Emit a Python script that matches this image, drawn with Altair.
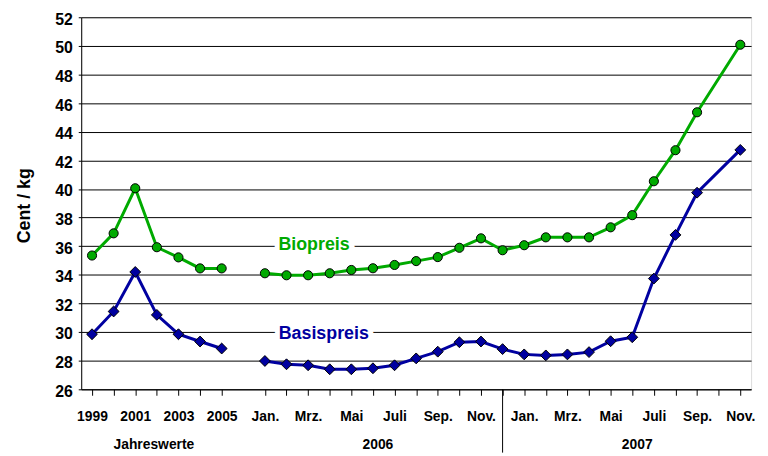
import json
import altair as alt
import pandas as pd

# ---------------- data ----------------
keys = ["1999", "2000", "2001", "2002", "2003", "2004", "2005", "gap",
        "2006-01", "2006-02", "2006-03", "2006-04", "2006-05", "2006-06",
        "2006-07", "2006-08", "2006-09", "2006-10", "2006-11", "2006-12",
        "2007-01", "2007-02", "2007-03", "2007-04", "2007-05", "2007-06",
        "2007-07", "2007-08", "2007-09", "2007-10", "2007-11"]
tick_labels = ["1999", "", "2001", "", "2003", "", "2005", "",
               "Jan.", "", "Mrz.", "", "Mai", "", "Juli", "", "Sep.", "", "Nov.", "",
               "Jan.", "", "Mrz.", "", "Mai", "", "Juli", "", "Sep.", "", "Nov."]
segments = ["annual"] * 8 + ["monthly"] * 23

bio = [35.35, 36.9, 40.05, 35.93, 35.22, 34.45, 34.45, None,
       34.11, 33.97, 33.97, 34.11, 34.34, 34.46, 34.69, 34.96, 35.24, 35.89, 36.55, 35.72,
       36.07, 36.62, 36.62, 36.62, 37.32, 38.17, 40.54, 42.71, 45.36, None, 50.08]
basis = [29.85, 31.44, 34.2, 31.2, 29.85, 29.34, 28.85, None,
         27.98, 27.75, 27.68, 27.4, 27.4, 27.47, 27.68, 28.16, 28.63, 29.29, 29.34, 28.81,
         28.44, 28.37, 28.44, 28.6, 29.36, 29.64, 33.74, 36.79, 39.74, None, 42.73]

series_names = ["Biopreis", "Basispreis"]
series_colors = ["#00AA00", "#0000A0"]
series_shapes = ["circle", "diamond"]
series_sizes = [85, 120]

# series labels on the chart
label_anchor = ["2006-03", "2006-04"]
label_level = [36, 30]
label_dx = [6, -6]
label_dy = [4, 7]

group_labels = ["Jahreswerte", "2006", "2007"]
group_anchor = ["2002", "2006-06", "2007-06"]
group_dx = [-3, 5, 5]

y_ticks = list(range(26, 53, 2))

FONT = "Liberation Sans"
W, H = 677, 376

rows = []
for name, vals in zip(series_names, [bio, basis]):
    for k, s, v in zip(keys, segments, vals):
        if v is not None:
            rows.append({"key": k, "seg": s, "series": name, "value": v})
df = pd.DataFrame(rows)

label_expr = json.dumps(dict(zip(keys, tick_labels))) + "[datum.value]"

x_scale = alt.Scale(type="point", domain=keys, padding=0.5)
y_scale = alt.Scale(domain=[26, 52], nice=False, zero=False)

x_axis = alt.Axis(title=None, labelExpr=label_expr, labelAngle=0, labelFont=FONT,
                  labelFontSize=14, labelFontWeight="bold", labelColor="black",
                  labelOverlap=False, labelPadding=15, tickSize=6, tickColor="black",
                  tickOpacity={"condition": {"test": "datum.value === 'gap'", "value": 0}, "value": 1},
                  domainColor="black", grid=False)
y_axis = alt.Axis(values=y_ticks, title="Cent / kg", titleFont=FONT, titleFontSize=18,
                  titleFontWeight="bold", titleColor="black", titleX=-57, titleY=190,
                  titleAngle=-90, titleAlign="center", titleBaseline="middle",
                  labelFont=FONT, labelFontSize=16, labelFontWeight="bold", labelColor="black",
                  labelOverlap=False, labelFlush=False,
                  labelPadding=6, labelOffset=2, tickSize=3, tickColor="black",
                  domainColor="black", grid=True, gridColor="black", gridWidth=1)

color_scale = alt.Scale(domain=series_names, range=series_colors)
shape_scale = alt.Scale(domain=series_names, range=series_shapes)
size_scale = alt.Scale(domain=series_names, range=series_sizes)

X = alt.X("key:O", scale=x_scale, sort=keys, axis=x_axis)
Y = alt.Y("value:Q", scale=y_scale, axis=y_axis)

base = alt.Chart(df)
lines = base.mark_line(strokeWidth=3).encode(
    x=X, y=Y,
    color=alt.Color("series:N", scale=color_scale, legend=None),
    detail="seg:N",
)
points = base.mark_point(filled=True, stroke="black", strokeWidth=1, fillOpacity=1).encode(
    x=X, y=Y,
    fill=alt.Fill("series:N", scale=color_scale, legend=None),
    shape=alt.Shape("series:N", scale=shape_scale, legend=None),
    size=alt.Size("series:N", scale=size_scale, legend=None),
)

layers = [lines]
for name, color, k, lvl, dx, dy in zip(series_names, series_colors, label_anchor, label_level, label_dx, label_dy):
    ldf = pd.DataFrame({"key": [k], "value": [lvl], "text": [name]})
    bg = alt.Chart(ldf).mark_text(font=FONT, fontSize=18, fontWeight="bold", dx=dx, dy=dy,
                                  baseline="alphabetic", stroke="white", strokeWidth=10,
                                  fill="white").encode(x=X, y=Y, text="text:N")
    fg = alt.Chart(ldf).mark_text(font=FONT, fontSize=18, fontWeight="bold", dx=dx, dy=dy,
                                  baseline="alphabetic", color=color).encode(x=X, y=Y, text="text:N")
    layers += [bg, fg]

layers.append(points)

sep = alt.Chart(pd.DataFrame({"key": ["2006-12"]})).mark_rule(color="black", strokeWidth=1).encode(
    x=X, y=alt.value(H), y2=alt.value(H + 64))
layers.append(sep)

for g, k, dx in zip(group_labels, group_anchor, group_dx):
    gdf = pd.DataFrame({"key": [k], "text": [g]})
    layers.append(alt.Chart(gdf).mark_text(font=FONT, fontSize=14, fontWeight="bold", dx=dx,
                                           baseline="alphabetic", color="black").encode(
        x=X, y=alt.value(H + 60), text="text:N"))

chart = alt.layer(*layers).properties(
    width=W, height=H,
    autosize=alt.AutoSizeParams(type="none"),
    padding={"left": 74, "top": 7, "right": 9, "bottom": 62},
).configure_view(stroke="#808080", strokeWidth=1).configure(background="white")

chart.save("out.html", embed_options={"renderer": "svg", "actions": False})
